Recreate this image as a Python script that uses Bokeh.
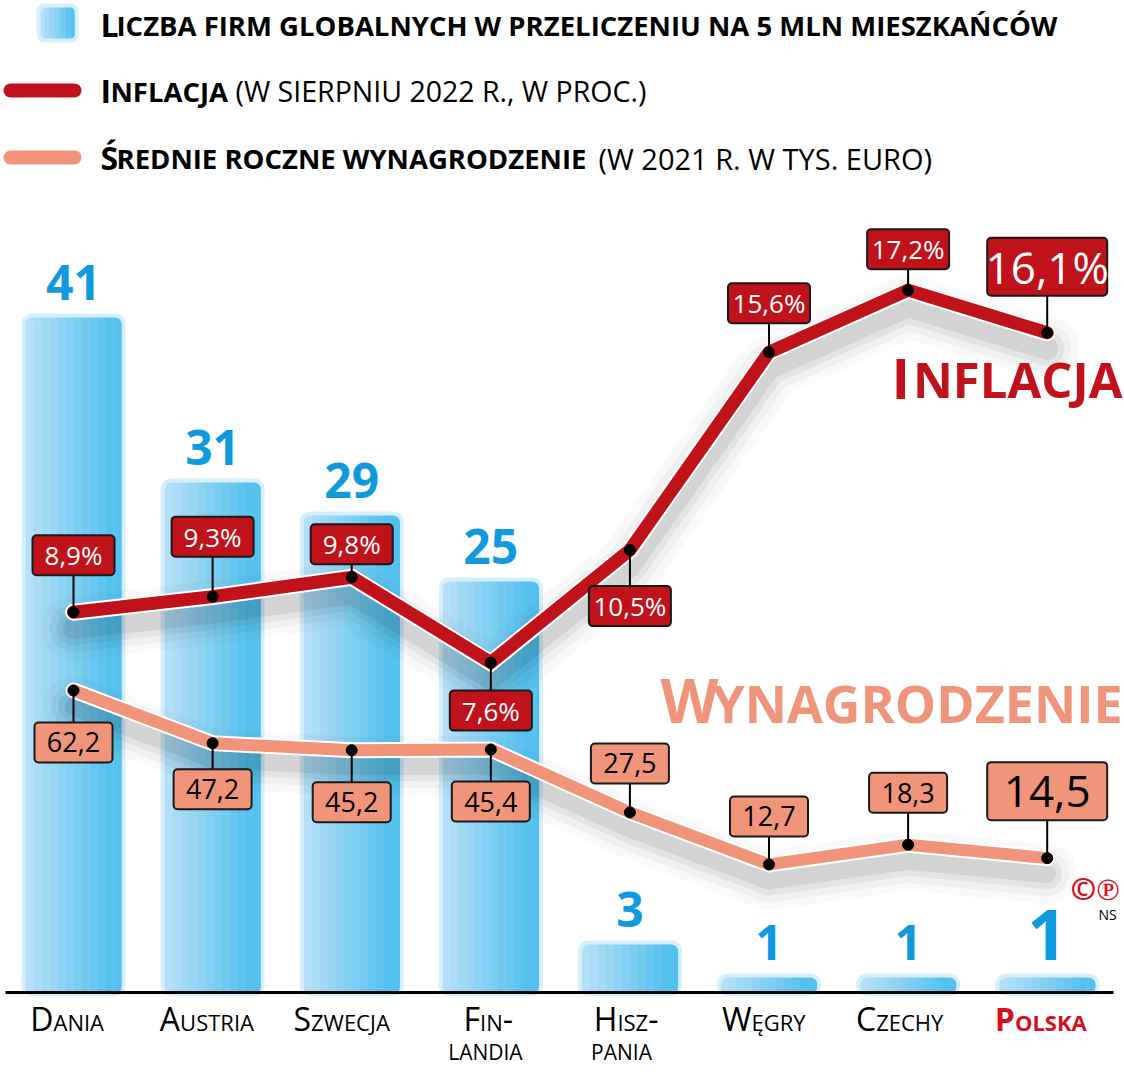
from bokeh.plotting import figure
from bokeh.models import Range1d, ColumnDataSource
from bokeh.embed import file_html
from bokeh.resources import INLINE
from bokeh.core.properties import value

# ---- data -------------------------------------------------------------
countries = ["Dania", "Austria", "Szwecja", "Fin-\nlandia", "Hisz-\npania", "Węgry", "Czechy", "Polska"]
firms = [41, 31, 29, 25, 3, 1, 1, 1]                      # global firms per 5 mln inhabitants
inflation = [8.9, 9.3, 9.8, 7.6, 10.5, 15.6, 17.2, 16.1]  # % (August 2022)
wages = [62.2, 47.2, 45.2, 45.4, 27.5, 12.7, 18.3, 14.5]  # thousand EUR (2021)

# ---- layout constants (pixels) ---------------------------------------
W, H = 1124, 1072
X0, DX = 73, 139.1            # centre of first category, spacing
BAR_ZERO, BAR_PPU = 993.5, 16.5
INF_ZERO, INF_PPU = 957, 38.8
WAGE_ZERO, WAGE_PPU = 908.6, 3.515

RED = "#c0121b"
SALMON = "#f0947a"
BLUE_TXT = "#0f9ade"
POLAND_RED = "#d5101e"
FONT = "Open Sans"
CAP = 0.714                   # cap height / font size


def pix_range(zero_px, ppu):
    return Range1d(-(H - zero_px) / ppu, zero_px / ppu)


idx = list(range(len(countries)))

p = figure(width=W, height=H, output_backend="svg", toolbar_location=None,
           x_range=Range1d(-X0 / DX, (W - X0) / DX), y_range=pix_range(BAR_ZERO, BAR_PPU),
           x_axis_location=None, y_axis_location=None, min_border=0,
           outline_line_color=None, background_fill_color="white", border_fill_color="white",
           styles={"font-variant": "small-caps"})
p.grid.visible = False
p.extra_y_ranges = {"inf": pix_range(INF_ZERO, INF_PPU),
                    "wage": pix_range(WAGE_ZERO, WAGE_PPU),
                    "py": Range1d(H, 0)}
p.extra_x_ranges = {"px": Range1d(0, W)}


def mix(c1, c2, t):
    a = [int(c1[i:i + 2], 16) for i in (1, 3, 5)]
    b = [int(c2[i:i + 2], 16) for i in (1, 3, 5)]
    return "#%02x%02x%02x" % tuple(round(a[k] + (b[k] - a[k]) * t) for k in range(3))


def label(x, baseline, text, size, **kw):
    """Caps text in pixel space, positioned by its baseline."""
    p.text(x=[x], y=[baseline - CAP * size / 2], text=[text], x_range_name="px", y_range_name="py",
           text_baseline="middle", text_font=value(FONT), text_font_size=f"{size}px", **kw)


# ---- bars: pale halo + horizontal gradient made of strips -------------
half_w = 48 / DX
halo = 4 / DX
p.quad(left=[i - half_w - halo for i in idx], right=[i + half_w + halo for i in idx],
       top=[f + 4 / BAR_PPU for f in firms], bottom=[-2 / BAR_PPU] * len(idx),
       fill_color="#d7effb", line_color=None, border_radius=10)

N = 12
sw = 2 * half_w / N
for k in range(N):
    col = mix("#b4dff7", "#55c1ee", min(1.0, k / (N - 1) * 1.1))
    rad = (7, 0, 0, 7) if k == 0 else ((0, 7, 7, 0) if k == N - 1 else 0)
    p.quad(left=[i - half_w + k * sw for i in idx], right=[i - half_w + (k + 1) * sw + 0.002 for i in idx],
           top=firms, bottom=[0] * len(idx), fill_color=col, line_color=None, border_radius=rad)

# bar values, floated 18 px above each bar
num_size = [48] * 7 + [70]
p.text(x=idx, y=[f + (18 + CAP * s / 2) / BAR_PPU for f, s in zip(firms, num_size)],
       text=[str(f) for f in firms], text_align="center", text_baseline="middle",
       text_color=BLUE_TXT, text_font=value(FONT), text_font_style="bold",
       text_font_size=[f"{s}px" for s in num_size])

# baseline
p.segment(x0=[5], y0=[992], x1=[1113], y1=[992], x_range_name="px", y_range_name="py",
          line_color="black", line_width=3)

# ---- soft shadows under both lines -----------------------------------
for w_, a_ in [(64, 0.025), (48, 0.035), (34, 0.05), (22, 0.07)]:
    p.line(idx, [v - 16 / INF_PPU for v in inflation], y_range_name="inf",
           line_width=w_, line_alpha=a_, line_color="black", line_join="round", line_cap="round")
    p.line(idx, [v - 16 / WAGE_PPU for v in wages], y_range_name="wage",
           line_width=w_ - 4, line_alpha=a_, line_color="black", line_join="round", line_cap="round")

# ---- lines -----------------------------------------------------------
p.line(idx, wages, y_range_name="wage", line_width=16, line_color="white",
       line_join="miter", line_cap="round")
p.line(idx, wages, y_range_name="wage", line_width=12, line_color=SALMON,
       line_join="miter", line_cap="round")
p.line(idx, inflation, y_range_name="inf", line_width=17, line_color="white",
       line_join="miter", line_cap="round")
p.line(idx, inflation, y_range_name="inf", line_width=13, line_color=RED,
       line_join="miter", line_cap="round")

# ---- value boxes -----------------------------------------------------
inf_off = [-57, -60, -33, 48, 56, -49, -41, -66]
wage_off = [52, 46, 52, 52, -49, -48, -52, -67]
box_h = [40] * 7 + [58]

inf_src = ColumnDataSource(dict(
    x=idx, y=inflation, yb=[v - o / INF_PPU for v, o in zip(inflation, inf_off)],
    t=[f"{v:.1f}".replace(".", ",") + "%" for v in inflation],
    w=[82] * 7 + [120], h=box_h, fs=["26px"] * 7 + ["44px"]))
wage_src = ColumnDataSource(dict(
    x=idx, y=wages, yb=[v - o / WAGE_PPU for v, o in zip(wages, wage_off)],
    t=[f"{v:.1f}".replace(".", ",") for v in wages],
    w=[78] * 7 + [120], h=box_h, fs=["27px"] * 7 + ["44px"]))

for src, rng, fill, tcol in [(wage_src, "wage", SALMON, "black"), (inf_src, "inf", RED, "white")]:
    p.segment(x0="x", y0="y", x1="x", y1="yb", source=src, y_range_name=rng,
              line_color="black", line_width=2)
    p.scatter("x", "y", source=src, y_range_name=rng, size=11, color="black")
    p.rect(x="x", y="yb", width="w", height="h", width_units="screen", height_units="screen",
           source=src, y_range_name=rng, fill_color=fill, line_color="#1a1a1a", line_width=2,
           border_radius=4)
    p.text(x="x", y="yb", text="t", source=src, y_range_name=rng, text_align="center",
           text_baseline="middle", text_color=tcol, text_font=value(FONT), text_font_size="fs")

# ---- series titles (initial capital + smaller capitals) --------------
label(891, 396, "I", 56, text_align="left", text_color=RED, text_font_style="bold")
label(1122, 396, "NFLACJA", 49, text_align="right", text_color=RED, text_font_style="bold")
label(660, 721, "W", 60, text_align="left", text_color=SALMON, text_font_style="bold")
label(1122, 721, "YNAGRODZENIE", 52, text_align="right", text_color=SALMON, text_font_style="bold")

# ---- category labels -------------------------------------------------
first_lines = [c.split("\n")[0] for c in countries]
second_lines = [c.split("\n")[1] if "\n" in c else "" for c in countries]
cat_colors = ["black"] * 7 + [POLAND_RED]
cat_styles = ["normal"] * 7 + ["bold"]
p.text(x=idx, y=[1018] * len(idx), text=first_lines, y_range_name="py",
       text_align="center", text_baseline="middle", text_color=cat_colors,
       text_font=value(FONT), text_font_style=cat_styles, text_font_size="32px")
p.text(x=idx, y=[1048] * len(idx), text=second_lines, y_range_name="py",
       text_align="center", text_baseline="middle", text_color=cat_colors,
       text_font=value(FONT), text_font_style=cat_styles, text_font_size="30px")

# ---- legend ----------------------------------------------------------
p.quad(left=[36], right=[78], top=[3], bottom=[42], x_range_name="px", y_range_name="py",
       fill_color="#d7effb", line_color=None, border_radius=8)
for k in range(8):
    p.quad(left=[40 + k * 4.25], right=[40 + (k + 1) * 4.25 + 0.3], top=[7], bottom=[38],
           x_range_name="px", y_range_name="py",
           fill_color=mix("#b4dff7", "#55c1ee", k / 7), line_color=None,
           border_radius=(5, 0, 0, 5) if k == 0 else ((0, 5, 5, 0) if k == 7 else 0))
p.segment(x0=[10, 10], y0=[90, 157], x1=[74, 74], y1=[90, 157], x_range_name="px", y_range_name="py",
          line_color=[RED, SALMON], line_width=14, line_cap="round")

bold = dict(text_align="left", text_color="black", text_font_style="bold")
light = dict(text_align="left", text_color="black", text_font_style="normal")
label(100, 35, "L", 32, **bold)
label(116, 35, "ICZBA FIRM GLOBALNYCH W PRZELICZENIU NA 5 MLN MIESZKAŃCÓW", 27.5, **bold)
label(100, 101, "I", 32, **bold)
label(110, 101, "NFLACJA", 27.5, **bold)
label(235, 101, "(W SIERPNIU 2022 R., W PROC.)", 28.5, **light)
label(100, 168, "Ś", 32, **bold)
label(116, 168, "REDNIE ROCZNE WYNAGRODZENIE", 27.5, **bold)
label(598, 168, "(W 2021 R. W TYS. EURO)", 29, **light)

# ---- credits ---------------------------------------------------------
label(1070, 899, "©℗", 31, text_align="left", text_color=POLAND_RED, text_font_style="bold")
label(1098, 919, "NS", 14, text_align="left", text_color="black")

open("out.html", "w").write(file_html(p, INLINE))
